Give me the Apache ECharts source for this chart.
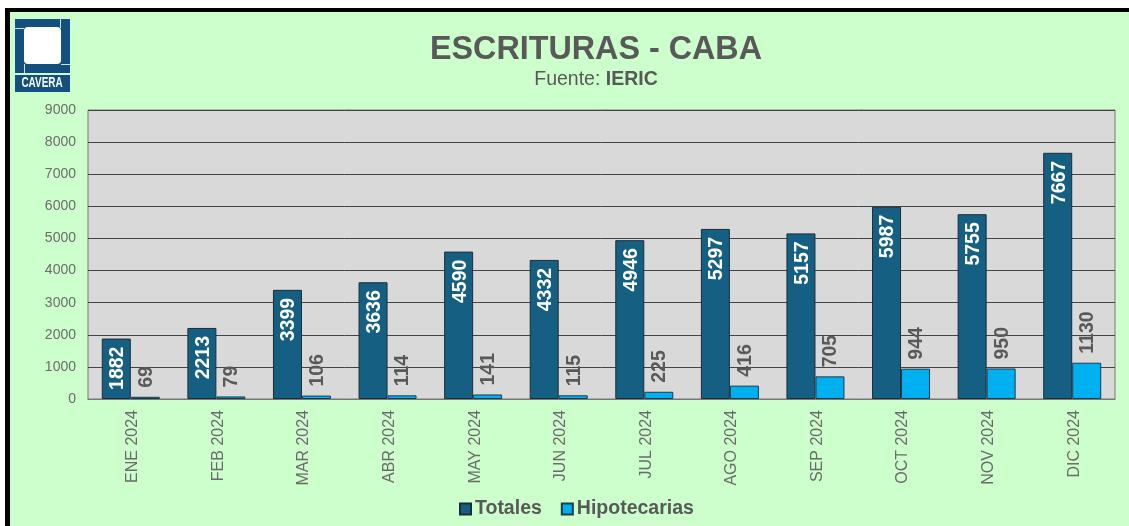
<!DOCTYPE html>
<html><head><meta charset="utf-8">
<style>html,body{margin:0;padding:0;background:#fff}#c{width:1129px;height:526px}</style>
<script src="https://cdn.jsdelivr.net/npm/echarts@6/dist/echarts.min.js"></script>
</head><body><div id="c"></div>
<script>
const categories = ['ENE 2024','FEB 2024','MAR 2024','ABR 2024','MAY 2024','JUN 2024','JUL 2024','AGO 2024','SEP 2024','OCT 2024','NOV 2024','DIC 2024'];
const totales = [1882,2213,3399,3636,4590,4332,4946,5297,5157,5987,5755,7667];
const hipotecarias = [69,79,106,114,141,115,225,416,705,944,950,1130];
const font = '"Liberation Sans", Arial, sans-serif';
const chart = echarts.init(document.getElementById('c'), null, {renderer:'canvas'});
chart.setOption({
  animation:false,
  backgroundColor:'#fff',
  textStyle:{fontFamily:font},
  title:{
    text:'ESCRITURAS - CABA',
    subtext:'Fuente: {b|IERIC}',
    left:591, top:27, textAlign:'center', itemGap:1,
    textStyle:{fontFamily:font,fontSize:32.3,fontWeight:'bold',color:'#595959',lineHeight:37},
    subtextStyle:{fontFamily:font,fontSize:19.5,color:'#595959',lineHeight:20,
      rich:{b:{fontFamily:font,fontSize:19.5,fontWeight:'bold',color:'#595959'}}}
  },
  legend:{
    left:454, top:494, itemWidth:11, itemHeight:11, itemGap:19,
    icon:'rect',
    textStyle:{fontFamily:font,fontSize:19.5,fontWeight:'bold',color:'#595959',padding:[0,0,0,-1]},
    data:['Totales','Hipotecarias']
  },
  grid:{left:88,right:14,top:110,bottom:127,show:true,backgroundColor:'#D9D9D9',borderColor:'#777',borderWidth:1},
  xAxis:{type:'category',data:categories,
    axisTick:{show:false},axisLine:{lineStyle:{color:'#777'}},
    axisLabel:{rotate:90,fontFamily:font,fontSize:16,color:'#6b6b6b',margin:11,interval:0,verticalAlign:'top',lineHeight:4}},
  yAxis:{type:'value',min:0,max:9000,interval:1000,
    axisLine:{show:false},axisTick:{show:false},
    axisLabel:{fontFamily:font,fontSize:14,color:'#6b6b6b',margin:12,formatter:function(v){return String(v);}},
    splitLine:{lineStyle:{color:'#444',width:1}}},
  series:[
    {name:'Totales',type:'bar',data:totales,barWidth:29,barGap:'0%',
     itemStyle:{color:'#156082',borderColor:'#1b2d38',borderWidth:1},
     label:{show:true,position:'insideTop',rotate:90,distance:8,align:'right',verticalAlign:'middle',offset:[0,1.5],
       fontFamily:font,fontSize:19.5,fontWeight:'bold',color:'#fff'}},
    {name:'Hipotecarias',type:'bar',data:hipotecarias,barWidth:29,
     itemStyle:{color:'#00B0F0',borderColor:'#1b3a4a',borderWidth:1},
     label:{show:true,position:'top',rotate:90,distance:9,align:'left',verticalAlign:'middle',offset:[0,1],
       fontFamily:font,fontSize:19.5,fontWeight:'bold',color:'#595959'}}
  ],
  graphic:[
    {type:'rect',z:-10,silent:true,shape:{x:5,y:8,width:1124,height:518},style:{fill:'#000'}},
    {type:'rect',z:-9,silent:true,shape:{x:10,y:12,width:1119,height:514},style:{fill:'#CCFFCC'}},
    {type:'rect',z:5,silent:true,shape:{x:15,y:19,width:55,height:73},style:{fill:'#14507F'}},
    {type:'rect',z:6,silent:true,shape:{x:15,y:73,width:55,height:2},style:{fill:'#CCFFCC'}},
    {type:'rect',z:6,silent:true,shape:{x:24,y:27,width:37,height:37,r:4},style:{fill:'#fff'}},
    {type:'rect',z:6,silent:true,shape:{x:60,y:19,width:1,height:9},style:{fill:'#CFE3EE'}},
    {type:'rect',z:6,silent:true,shape:{x:15,y:28,width:9,height:1},style:{fill:'#CFE3EE'}},
    {type:'rect',z:6,silent:true,shape:{x:24,y:64,width:1,height:9},style:{fill:'#CFE3EE'}},
    {type:'rect',z:6,silent:true,shape:{x:61,y:64,width:9,height:1},style:{fill:'#CFE3EE'}},
    {type:'text',z:7,silent:true,x:42,y:83.5,scaleX:0.71,style:{x:0,y:0,text:'CAVERA',align:'center',verticalAlign:'middle',
      font:'bold 14px "Liberation Sans",Arial',fill:'#fff'}}
  ]
});
</script></body></html>
